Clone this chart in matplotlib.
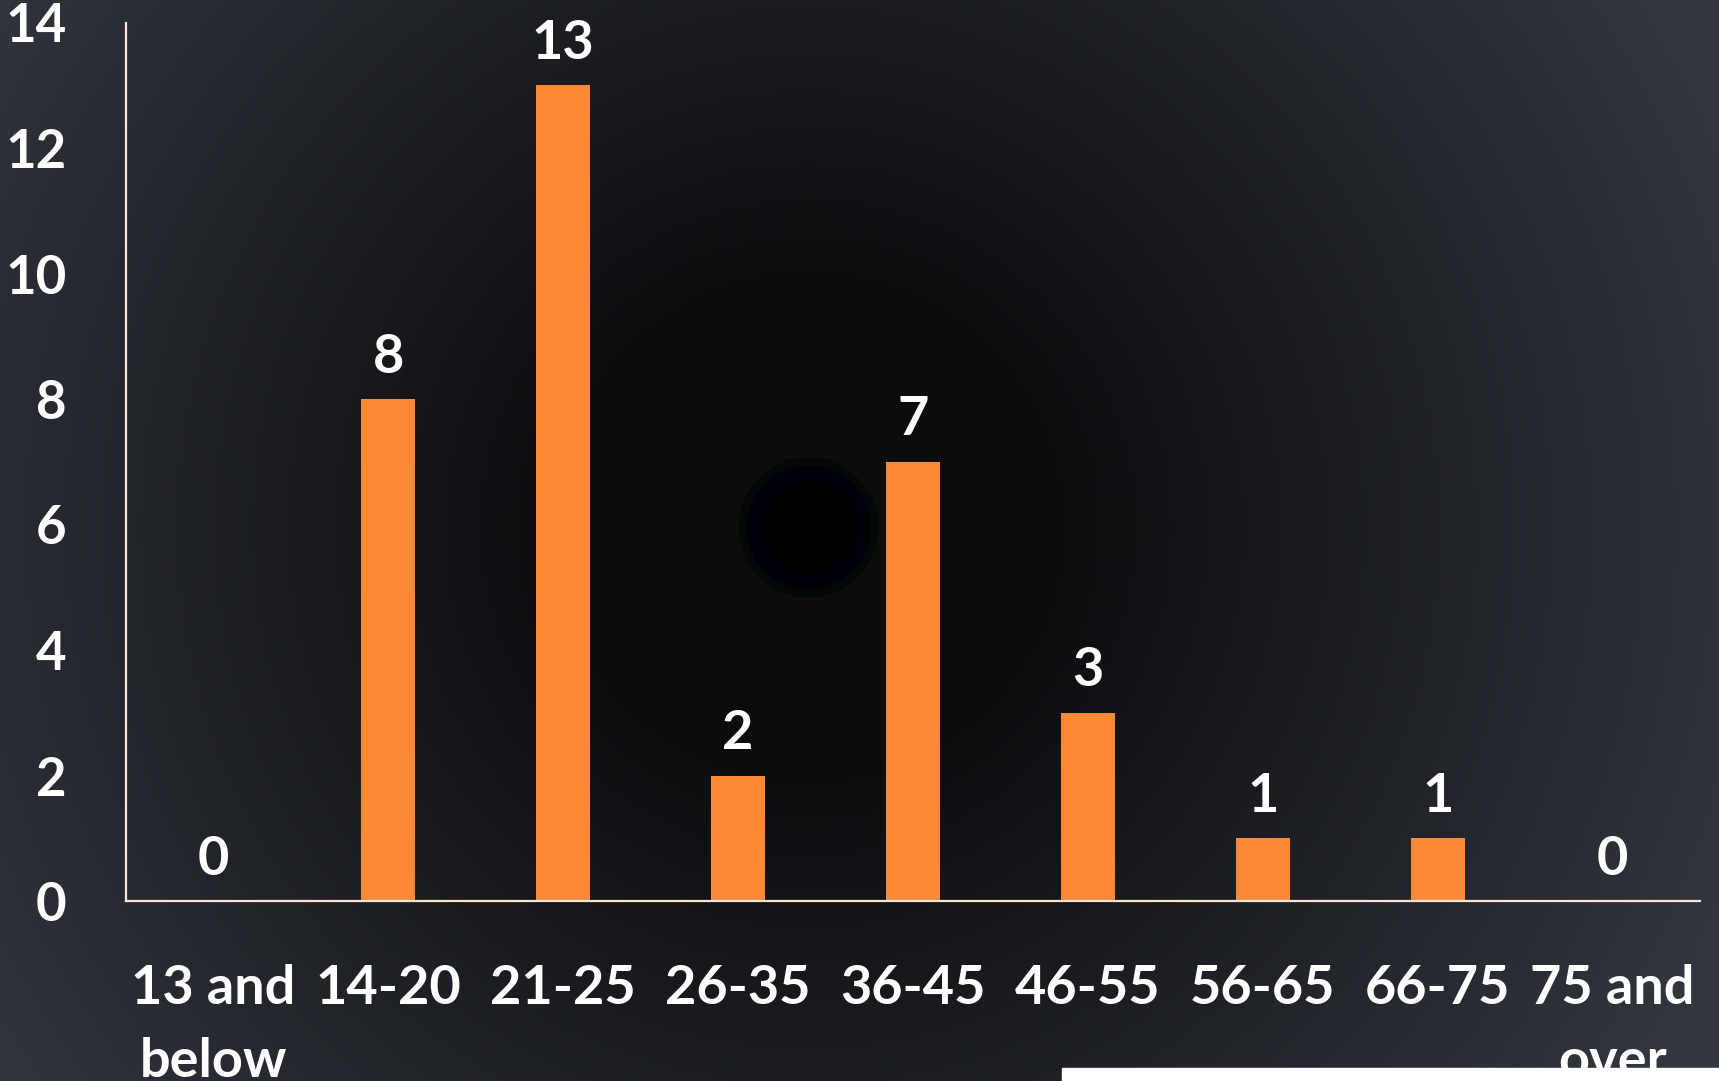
import numpy as np
import matplotlib.pyplot as plt
from matplotlib.patches import Rectangle

# Age groups and counts
categories = ['13 and\nbelow', '14-20', '21-25', '26-35', '36-45',
              '46-55', '56-65', '66-75', '75 and\nover']
counts = [0, 8, 13, 2, 7, 3, 1, 1, 0]
y_ticks = [0, 2, 4, 6, 8, 10, 12, 14]

BAR_COLOR = '#fe8a38'
AXIS_COLOR = '#fbe5d6'
FONT = 'Lato'

W, H = 1719, 1081
fig = plt.figure(figsize=(W / 100, H / 100), dpi=100)

# radial gradient background (dark core in the middle of the slide)
bg = fig.add_axes([0, 0, 1, 1])
yy, xx = np.mgrid[0:H, 0:W]
r = np.hypot(xx - 808, yy - 527)
outer = np.array([0x32, 0x36, 0x3e]) / 255
t = np.clip((r - 45) / (1000 - 45), 0, 1) ** 0.95
img = t[..., None] * outer[None, None, :]
plateau = np.array([12, 12, 12]) / 255
img = np.maximum(img, plateau[None, None, :] * (r > 70)[..., None])
ring1 = (r >= 47) & (r < 62)
ring2 = (r >= 62) & (r <= 70)
img[ring1] = np.array([0, 0, 8]) / 255
img[ring2] = np.array([2, 7, 7]) / 255
img[r < 47] = 0
bg.imshow(img, extent=[0, W, H, 0], aspect='auto')
bg.set_xlim(0, W)
bg.set_ylim(H, 0)
bg.axis('off')
# white panel peeking in at the bottom right
bg.add_patch(Rectangle((1062, 1068), W - 1062, 20, color='white', zorder=3))

ax = fig.add_axes([126 / W, 1 - 901 / H, (1700 - 126) / W, (901 - 22.5) / H])
ax.patch.set_alpha(0)
x = np.arange(len(categories))
ax.bar(x, counts, width=0.31, color=BAR_COLOR, zorder=2)

for xi, v in zip(x, counts):
    ax.annotate(str(v), (xi, v), xytext=(0, 19), textcoords='offset points',
                ha='center', va='baseline', color='white', fontsize=39,
                fontweight='bold', family=FONT)

ax.set_xlim(-0.5, len(categories) - 0.5)
ax.set_ylim(0, 14)
ax.set_yticks(y_ticks)
ax.set_yticklabels([str(v) for v in y_ticks], fontsize=38, fontweight='bold',
                   family=FONT, color='white')
ax.set_xticks(x)
ax.set_xticklabels(categories, fontsize=39, fontweight='bold', family=FONT,
                   color='white', linespacing=1.62)
ax.tick_params(axis='y', length=0, pad=43)
ax.tick_params(axis='x', length=0, pad=45)

for side in ['top', 'right']:
    ax.spines[side].set_visible(False)
for side in ['left', 'bottom']:
    ax.spines[side].set_color(AXIS_COLOR)
    ax.spines[side].set_linewidth(1.6)

fig.savefig('out.png', dpi=100)
